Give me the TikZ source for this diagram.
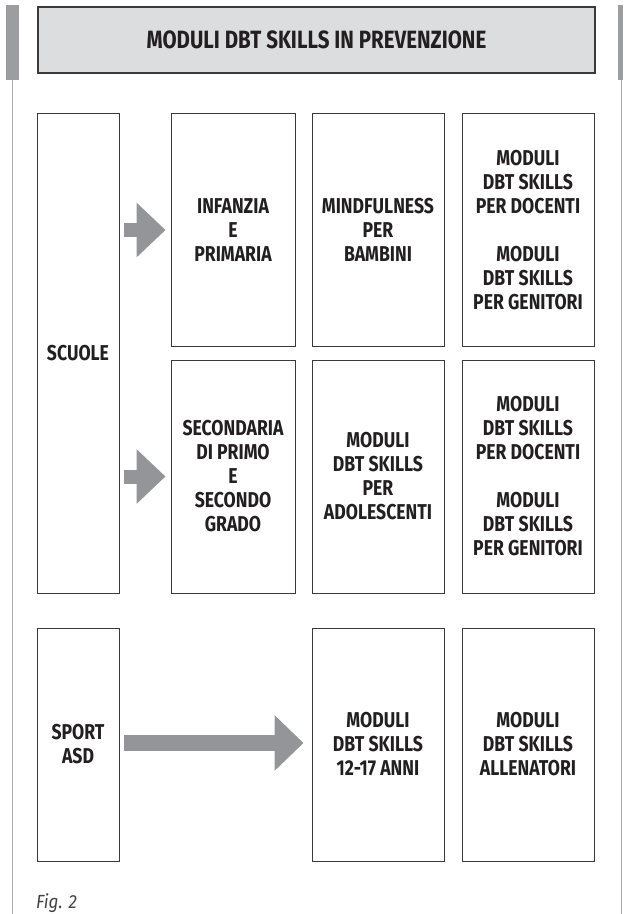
\documentclass[tikz,border=0pt]{standalone}
\usepackage{fontspec}
\setmainfont{Fira Sans}[FakeStretch=0.82]
\newfontfamily\capfont{Fira Sans}[FakeStretch=0.9]
\usetikzlibrary{arrows.meta,calc}
\definecolor{ink}{HTML}{231F20}
\definecolor{boxline}{HTML}{3A3A3A}
\definecolor{titlefill}{HTML}{DCDDDE}
\definecolor{barfill}{HTML}{9C9DA0}
\definecolor{arrowfill}{HTML}{939598}
\definecolor{rulegray}{HTML}{AAAAAA}
\begin{document}
\begin{tikzpicture}[x=1pt,y=-1pt,
  box/.style={draw=boxline, line width=1pt, align=center, text=ink,
    font=\bfseries\fontsize{21.5}{24}\selectfont, inner sep=0pt},
  rowbox/.style={box, minimum height=233pt},
  narrow/.style={minimum width=82pt},
  mid/.style={minimum width=124pt},
  wide/.style={minimum width=132pt},
  blockarrow/.style={draw=arrowfill, line width=14pt,
    -{Triangle[length=29pt,width=53pt]}},
]
\useasboundingbox (0,0) rectangle (625,914);

% side rules with their grey tabs
\fill[barfill] (6,5) rectangle (19,80);
\draw[rulegray, line width=1.2pt] (12.5,80) -- (12.5,914);
\fill[barfill] (618,5) rectangle (623,80);
\draw[rulegray, line width=1.2pt] (621.5,80) -- (621.5,914);

% heading
\node[box, fill=titlefill, line width=1.4pt, minimum width=557pt, minimum height=66pt,
  font=\bfseries\fontsize{25}{28}\selectfont]
  (title) at (316.5,40) {MODULI DBT SKILLS IN PREVENZIONE};

% schools
\node[box, narrow, minimum height=480pt] (scuole) at (78,353) {SCUOLE};
\node[rowbox, mid]  (inf)  at (233,230) {INFANZIA\\E\\PRIMARIA};
\node[rowbox, wide] (mind) at (378,230) {MINDFULNESS\\PER\\BAMBINI};
\node[rowbox, wide] (doc1) at (528,230)
  {MODULI\\DBT SKILLS\\PER DOCENTI\\[24pt]MODULI\\DBT SKILLS\\PER GENITORI};
\node[rowbox, mid]  (sec)  at (233,476.5) {SECONDARIA\\DI PRIMO\\E\\SECONDO\\GRADO};
\node[rowbox, wide] (ado)  at (378,476.5) {MODULI\\DBT SKILLS\\PER\\ADOLESCENTI};
\node[rowbox, wide] (doc2) at (528,476.5)
  {MODULI\\DBT SKILLS\\PER DOCENTI\\[24pt]MODULI\\DBT SKILLS\\PER GENITORI};

% sport
\node[rowbox, narrow] (sport) at (78,744.5) {SPORT\\ASD};
\node[rowbox, wide]   (anni)  at (378,744.5) {MODULI\\DBT SKILLS\\12-17 ANNI};
\node[rowbox, wide]   (all)   at (528,744.5) {MODULI\\DBT SKILLS\\ALLENATORI};

% block arrows
\draw[blockarrow] ($(scuole.east|-inf.west)+(4,0)$) -- ($(inf.west)+(-5,0)$);
\draw[blockarrow] ($(scuole.east|-sec.west)+(4,0)$) -- ($(sec.west)+(-5,0)$);
\draw[blockarrow, line width=16pt, -{Triangle[length=29pt,width=54pt]}]
  ($(sport.east)+(4,-1.5)$) -- ($(anni.west|-sport.east)+(-8,-1.5)$);

% caption
\node[anchor=base west, inner sep=0pt, text=ink!85,
  font=\capfont\itshape\fontsize{19}{22}\selectfont] (fig) at (36,908.5) {Fig. 2};
\end{tikzpicture}
\end{document}
